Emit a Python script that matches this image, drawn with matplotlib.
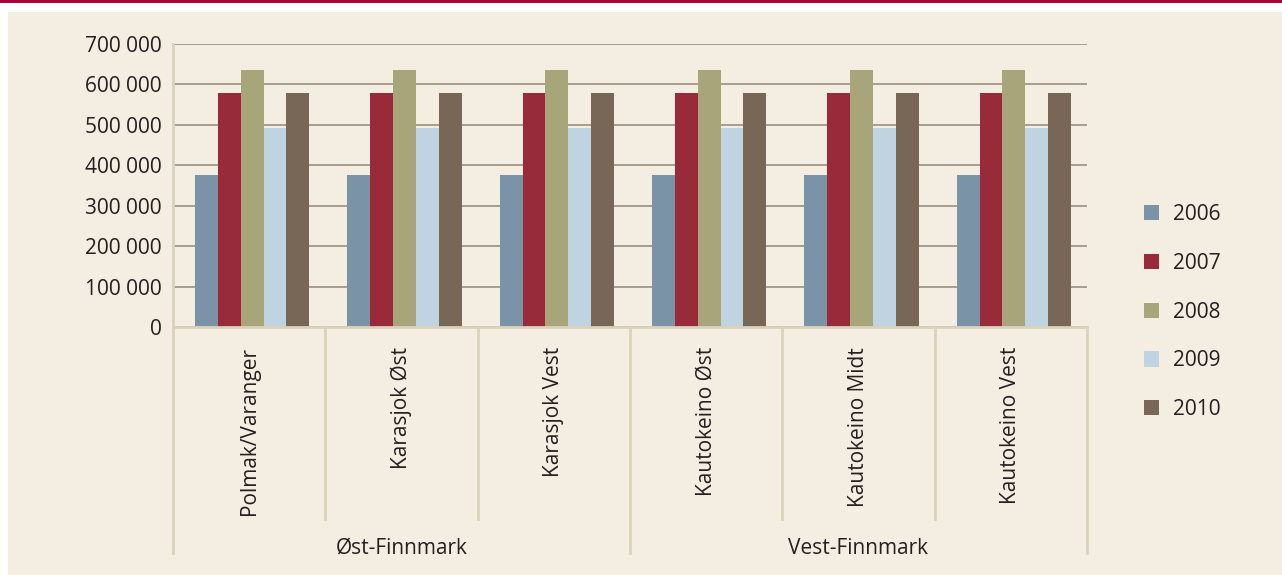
import matplotlib.pyplot as plt
import numpy as np
from matplotlib.patches import Rectangle
from matplotlib.ticker import FuncFormatter
import matplotlib.transforms as mtransforms

plt.rcParams['font.family'] = ['Open Sans', 'DejaVu Sans']

categories = ["Polmak/Varanger", "Karasjok Øst", "Karasjok Vest",
              "Kautokeino Øst", "Kautokeino Midt", "Kautokeino Vest"]
groups = ["Øst-Finnmark", "Vest-Finnmark"]
group_size = [3, 3]
years = ["2006", "2007", "2008", "2009", "2010"]
v2006 = [376000, 376000, 376000, 376000, 376000, 376000]
v2007 = [579000, 579000, 579000, 579000, 579000, 579000]
v2008 = [636000, 636000, 636000, 636000, 636000, 636000]
v2009 = [492000, 492000, 492000, 492000, 492000, 492000]
v2010 = [579000, 579000, 579000, 579000, 579000, 579000]
series = [v2006, v2007, v2008, v2009, v2010]
colors = ["#7b93a7", "#992a3a", "#a8a57a", "#c0d3e0", "#786757"]

bg = "#f4eee2"
sep_col = "#d9d2bc"
txt = "#231f20"
fs = 15

fig = plt.figure(figsize=(12.82, 5.75), dpi=100)
fig.patches.append(Rectangle((8 / 1282, 0), 1, 1 - 12 / 575, transform=fig.transFigure,
                             facecolor=bg, edgecolor="none", zorder=-10))
fig.patches.append(Rectangle((0, 1 - 3 / 575), 1, 3 / 575, transform=fig.transFigure,
                             facecolor="#b0003a", edgecolor="none", zorder=-10))

ax = fig.add_axes([173 / 1282, 1 - 327 / 575, (1087 - 173) / 1282, (327 - 44) / 575])
ax.set_facecolor(bg)

x = np.arange(len(categories))
w = 0.15
for i, (vals, c, yr) in enumerate(zip(series, colors, years)):
    ax.bar(x + (i - 2) * w + 0.02, vals, width=w, color=c, label=yr, zorder=3)

ax.set_xlim(-0.5, len(categories) - 0.5)
ax.set_ylim(0, 700000)
ax.set_yticks(np.arange(0, 700001, 100000))
ax.yaxis.set_major_formatter(FuncFormatter(lambda v, p: f"{int(v):,}".replace(",", " ")))
ax.tick_params(axis='y', length=0, pad=8, labelsize=fs, labelcolor=txt)
ax.set_xticks([])
ax.grid(axis='y', color="#a39686", linewidth=1.3, zorder=0)
for s in ["top", "right"]:
    ax.spines[s].set_visible(False)
ax.spines["left"].set_color(sep_col)
ax.spines["left"].set_linewidth(2)
ax.spines["bottom"].set_color(sep_col)
ax.spines["bottom"].set_linewidth(2)
ax.spines["bottom"].set_zorder(4)

trans = mtransforms.blended_transform_factory(ax.transData, ax.transAxes)
ax_h = 327 - 44
inner_bottom = -(519 - 327) / ax_h
outer_bottom = -(553 - 327) / ax_h

# category separators
bounds = [0]
for g in group_size:
    bounds.append(bounds[-1] + g)
for k in range(len(categories) + 1):
    bottom = outer_bottom if k in bounds else inner_bottom
    ax.plot([k - 0.5, k - 0.5], [0, bottom], transform=trans, color=sep_col,
            linewidth=2, clip_on=False, zorder=2)

for xi, name in zip(x, categories):
    ax.text(xi, -(347 - 327) / ax_h, name, transform=trans, rotation=90,
            ha='center', va='top', fontsize=fs, color=txt)

for gi, name in enumerate(groups):
    center = (bounds[gi] + bounds[gi + 1]) / 2 - 0.5
    ax.text(center, -(548 - 327) / ax_h, name, transform=trans,
            ha='center', va='center', fontsize=fs, color=txt)

fig.legend(loc='center left', bbox_to_anchor=(1125 / 1282, 1 - 312 / 575), frameon=False,
           fontsize=fs, handlelength=0.75, handleheight=0.75, handletextpad=0.65,
           labelspacing=1.33, labelcolor=txt)

fig.savefig("out.png", dpi=100, facecolor="white")
